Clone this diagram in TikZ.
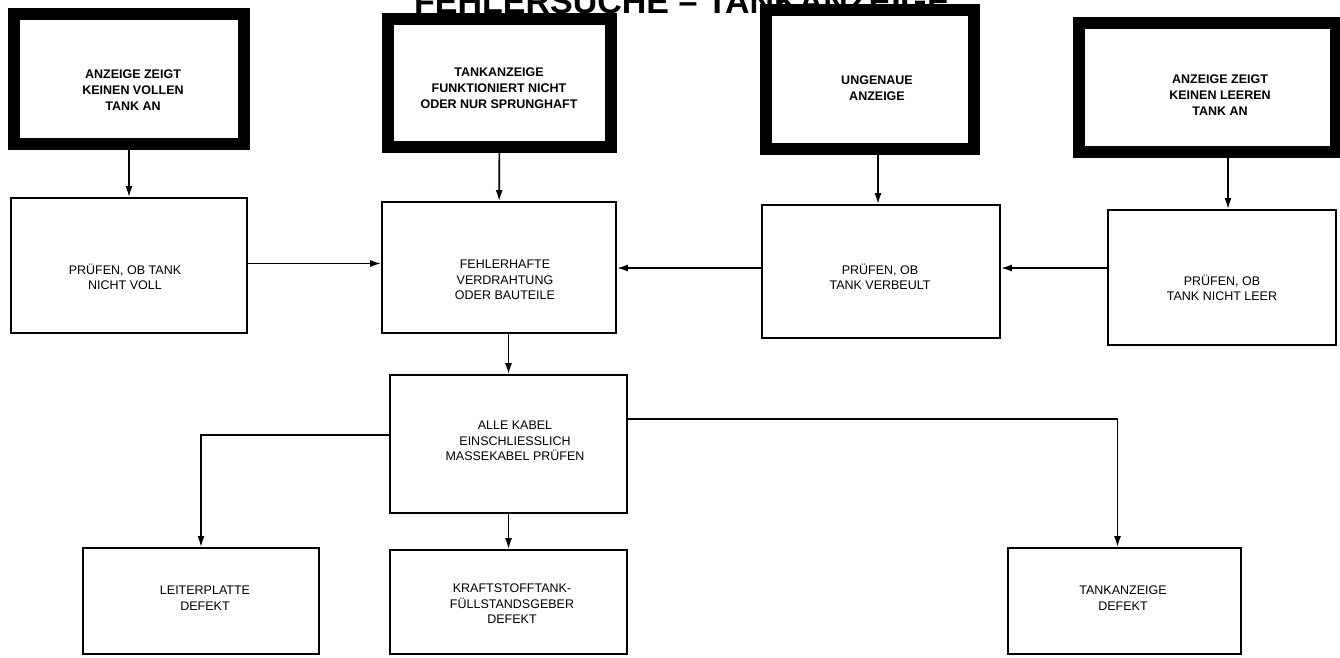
\documentclass[tikz,border=0pt]{standalone}
\usepackage{fontspec}
\setmainfont{Liberation Sans}
\usetikzlibrary{arrows.meta}

\begin{document}
\begin{tikzpicture}[x=1pt,y=-1pt]
		\tikzset{
			topbox/.style={draw,line width=12pt,rectangle,inner sep=0pt},
			box/.style={draw,line width=1.8pt,rectangle,inner sep=0pt},
			toptxt/.style={align=center,font=\bfseries\fontsize{12.5}{16}\selectfont},
			txt/.style={align=center,font=\fontsize{12.5}{15.5}\selectfont},
			arr/.style={line width=1.6pt,-{Latex[length=11pt,width=7pt]}}
		}
		\fill[white] (0,0) rectangle (1340,657);
		\useasboundingbox (0,0) rectangle (1340,657);
		\node[anchor=base,font=\bfseries\fontsize{34}{34}\selectfont] (titel) at (682,13) {FEHLERSUCHE – TANKANZEIGE};
		% obere Reihe
		\node[topbox,minimum width=230pt,minimum height=130pt] (anzVoll) at (129,79) {};
		\node[toptxt] (anzVoll-t) at (133,90) {ANZEIGE ZEIGT\\KEINEN VOLLEN\\TANK AN};
		\node[topbox,minimum width=223pt,minimum height=128pt] (funkt) at (499.5,83) {};
		\node[toptxt] (funkt-t) at (499,88) {TANKANZEIGE\\FUNKTIONIERT NICHT\\ODER NUR SPRUNGHAFT};
		\node[topbox,minimum width=208pt,minimum height=139pt] (ungenau) at (870,79.5) {};
		\node[toptxt] (ungenau-t) at (877,88) {UNGENAUE\\ANZEIGE};
		\node[topbox,minimum width=257pt,minimum height=129pt] (anzLeer) at (1207.5,87.5) {};
		\node[toptxt] (anzLeer-t) at (1220,95) {ANZEIGE ZEIGT\\KEINEN LEEREN\\TANK AN};
		% zweite Reihe
		\node[box,minimum width=236pt,minimum height=135pt] (pVoll) at (129,265.5) {};
		\node[txt] (pVoll-t) at (125,277) {PRÜFEN, OB TANK\\NICHT VOLL};
		\node[box,minimum width=234pt,minimum height=131pt] (fehler) at (499,267.5) {};
		\node[txt] (fehler-t) at (505,280) {FEHLERHAFTE\\VERDRAHTUNG\\ODER BAUTEILE};
		\node[box,minimum width=238pt,minimum height=133pt] (pBeult) at (881,271.5) {};
		\node[txt] (pBeult-t) at (880,277) {PRÜFEN, OB\\TANK VERBEULT};
		\node[box,minimum width=228pt,minimum height=135pt] (pLeer) at (1222,277.5) {};
		\node[txt] (pLeer-t) at (1222,288) {PRÜFEN, OB\\TANK NICHT LEER};
		% Kabel
		\node[box,minimum width=237pt,minimum height=138pt] (kabel) at (508.5,444) {};
		\node[txt] (kabel-t) at (515,441) {ALLE KABEL\\EINSCHLIESSLICH\\MASSEKABEL PRÜFEN};
		% untere Reihe
		\node[box,minimum width=236pt,minimum height=106pt] (platte) at (201,601) {};
		\node[txt] (platte-t) at (205,598) {LEITERPLATTE\\DEFEKT};
		\node[box,minimum width=237pt,minimum height=104pt] (geber) at (508.5,602) {};
		\node[txt] (geber-t) at (512,604) {KRAFTSTOFFTANK-\\FÜLLSTANDSGEBER\\DEFEKT};
		\node[box,minimum width=233pt,minimum height=106pt] (anzDef) at (1124.5,601) {};
		\node[txt] (anzDef-t) at (1123,598) {TANKANZEIGE\\DEFEKT};

		\coordinate (cg) at (878,0);
		\coordinate (dh) at (1228,0);
		\coordinate (zeile) at (0,268);
		\draw[arr] (anzVoll) -- (pVoll);
		\draw[arr] (funkt) -- (fehler);
		\draw[arr] (ungenau.south -| cg) -- (pBeult.north -| cg);
		\draw[arr] (anzLeer.south -| dh) -- (pLeer.north -| dh);
		\draw[arr] ([yshift=2pt]pVoll.east) -- ([yshift=2pt]pVoll.east -| fehler.west);
		\draw[arr] (pBeult.west |- zeile) -- (fehler.east |- zeile);
		\draw[arr] (pLeer.west |- zeile) -- (pBeult.east |- zeile);
		\draw[arr] (fehler.south -| kabel.north) -- (kabel.north);
		\draw[arr] ([yshift=9pt]kabel.west) -| (platte.north);
		\draw[arr] (kabel) -- (geber);
		\draw[arr] ([yshift=25pt]kabel.east) -| ([xshift=-7pt]anzDef.north);
	\end{tikzpicture}
\end{document}
